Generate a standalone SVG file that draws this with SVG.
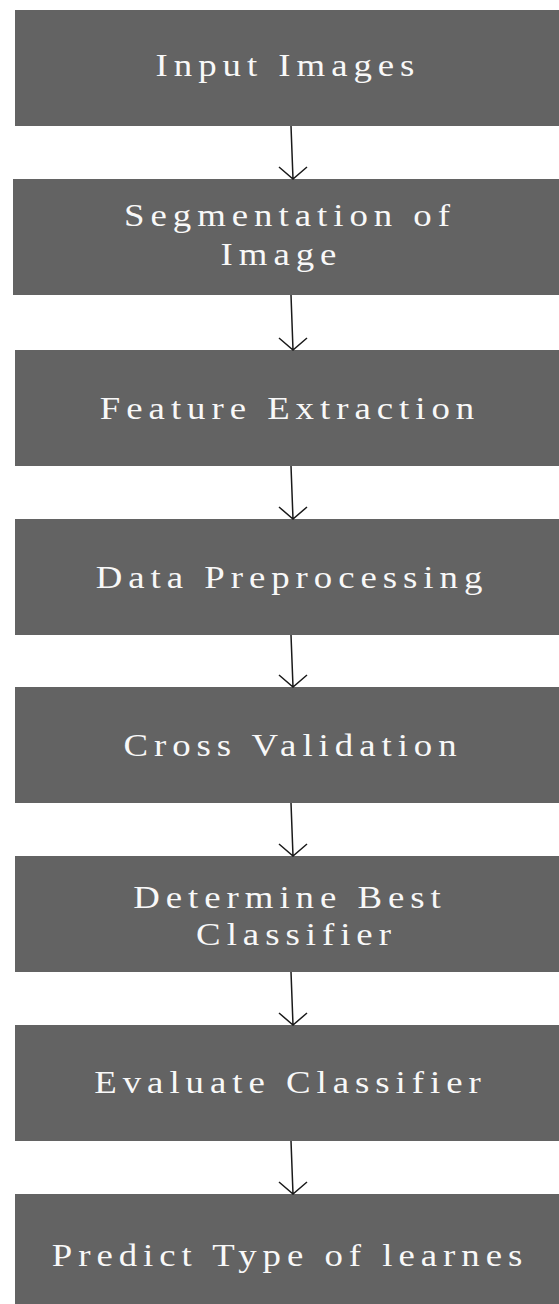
<svg xmlns="http://www.w3.org/2000/svg" width="559" height="1304" viewBox="0 0 559 1304">
<style>
.box{fill:#636363}
.lbl{fill:#f8f8f8;font-family:"Liberation Serif","Times New Roman",serif;font-size:32px;letter-spacing:5.2px;text-anchor:middle}
.edge{stroke:#1a1a1a;stroke-width:1.5;fill:none}
</style>
<rect width="559" height="1304" fill="#ffffff"/>
<g id="n1"><rect class="box" x="15" y="10" width="544" height="116"/><text class="lbl" transform="translate(288,76) scale(1.15,1)">Input Images</text></g>
<g id="n2"><rect class="box" x="13" y="179" width="546" height="116"/><text class="lbl" transform="translate(290,226) scale(1.15,1)">Segmentation of</text><text class="lbl" transform="translate(281.5,265) scale(1.15,1)">Image</text></g>
<g id="n3"><rect class="box" x="15" y="350" width="544" height="116"/><text class="lbl" transform="translate(290,419) scale(1.15,1)">Feature Extraction</text></g>
<g id="n4"><rect class="box" x="15" y="519" width="544" height="116"/><text class="lbl" transform="translate(292,588) scale(1.15,1)">Data Preprocessing</text></g>
<g id="n5"><rect class="box" x="15" y="687" width="544" height="116"/><text class="lbl" transform="translate(293,756) scale(1.15,1)">Cross Validation</text></g>
<g id="n6"><rect class="box" x="15" y="856" width="544" height="116"/><text class="lbl" transform="translate(290,908) scale(1.15,1)">Determine Best</text><text class="lbl" transform="translate(296.5,945) scale(1.15,1)">Classifier</text></g>
<g id="n7"><rect class="box" x="15" y="1025" width="544" height="116"/><text class="lbl" transform="translate(290.5,1093) scale(1.15,1)">Evaluate Classifier</text></g>
<g id="n8"><rect class="box" x="15" y="1194" width="544" height="116"/><text class="lbl" transform="translate(290,1266) scale(1.15,1)">Predict Type of learnes</text></g>
<g id="connectors">
<path class="edge" d="M291 126 L293 179 M279 167 L293 179 L307 167"/>
<path class="edge" d="M291 295 L293 350 M279 338 L293 350 L307 338"/>
<path class="edge" d="M291 466 L293 519 M279 507 L293 519 L307 507"/>
<path class="edge" d="M291 635 L293 687 M279 675 L293 687 L307 675"/>
<path class="edge" d="M291 803 L293 856 M279 844 L293 856 L307 844"/>
<path class="edge" d="M291 972 L293 1025 M279 1013 L293 1025 L307 1013"/>
<path class="edge" d="M291 1141 L293 1194 M279 1182 L293 1194 L307 1182"/>
</g>
</svg>
